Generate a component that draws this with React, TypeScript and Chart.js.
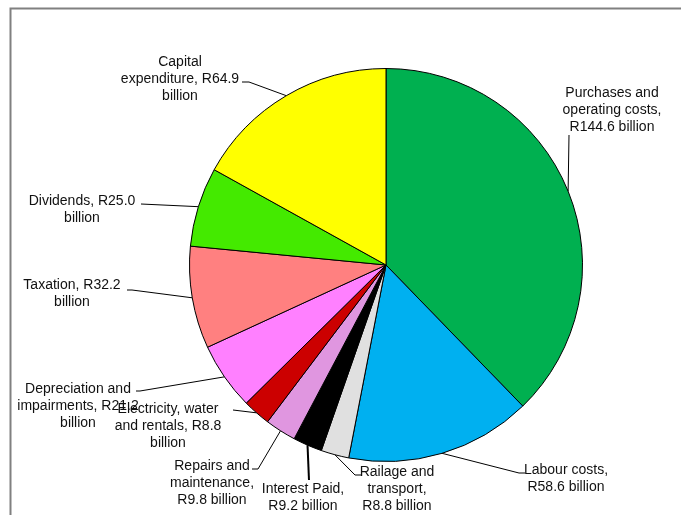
import React, { useEffect, useRef } from "react";
import { Chart, registerables } from "chart.js";

Chart.register(...registerables);

const categories = [
  "Purchases and operating costs",
  "Labour costs",
  "Railage and transport",
  "Interest Paid",
  "Repairs and maintenance",
  "Electricity, water and rentals",
  "Depreciation and impairments",
  "Taxation",
  "Dividends",
  "Capital expenditure",
];

const values = [144.6, 58.6, 8.8, 9.2, 9.8, 8.8, 21.2, 32.2, 25.0, 64.9];

const colors = [
  "#00B050",
  "#00B0F0",
  "#E0E0E0",
  "#000000",
  "#E096E0",
  "#CC0000",
  "#FF80FF",
  "#FF8080",
  "#44EA00",
  "#FFFF00",
];

const labelLines = [
  ["Purchases and", "operating costs,", "R144.6 billion"],
  ["Labour costs,", "R58.6 billion"],
  ["Railage and", "transport,", "R8.8 billion"],
  ["Interest Paid,", "R9.2 billion"],
  ["Repairs and", "maintenance,", "R9.8 billion"],
  ["Electricity, water", "and rentals, R8.8", "billion"],
  ["Depreciation and", "impairments, R21.2", "billion"],
  ["Taxation, R32.2", "billion"],
  ["Dividends, R25.0", "billion"],
  ["Capital", "expenditure, R64.9", "billion"],
];

// layout: label centre x, first line y, leader points near label
const labelLayout = [
  { cx: 612, y: 93, leader: [[569, 135]] },
  { cx: 566, y: 470, leader: [[525, 473], [519, 473]] },
  { cx: 397, y: 472, leader: [[361, 475], [355, 475]] },
  { cx: 303, y: 489, leader: [[309, 480]], width: 2 },
  { cx: 212, y: 466, leader: [[252, 469], [258, 469]] },
  { cx: 168, y: 409, leader: [[233, 410]] },
  { cx: 78, y: 389, leader: [[136, 391], [140, 391]] },
  { cx: 72, y: 285, leader: [[127, 290], [132, 290]] },
  { cx: 82, y: 201, leader: [[141, 204]] },
  { cx: 180, y: 62, leader: [[242, 82], [249, 82]] },
];

const LINE_H = 17;

const labelPlugin = {
  id: "labelPlugin",
  afterDraw(chart: any) {
    const ctx = chart.ctx;
    ctx.save();
    // frame
    ctx.strokeStyle = "#808080";
    ctx.lineWidth = 2;
    ctx.beginPath();
    ctx.moveTo(10.5, 515);
    ctx.lineTo(10.5, 8.5);
    ctx.lineTo(681, 8.5);
    ctx.stroke();

    const meta = chart.getDatasetMeta(0);
    meta.data.forEach((arc: any, i: number) => {
      const p = arc.getProps(["x", "y", "startAngle", "endAngle", "outerRadius"], true);
      const mid = (p.startAngle + p.endAngle) / 2;
      const ex = p.x + p.outerRadius * Math.cos(mid);
      const ey = p.y + p.outerRadius * Math.sin(mid);
      const lay = labelLayout[i];
      ctx.strokeStyle = "#000";
      ctx.lineWidth = lay.width || 1;
      ctx.beginPath();
      lay.leader.forEach((pt: number[], k: number) => {
        if (k === 0) ctx.moveTo(pt[0], pt[1]);
        else ctx.lineTo(pt[0], pt[1]);
      });
      ctx.lineTo(ex, ey);
      ctx.stroke();
    });

    ctx.fillStyle = "#111";
    ctx.font = "14px 'Liberation Sans', Arial, sans-serif";
    ctx.textAlign = "center";
    ctx.textBaseline = "middle";
    labelLines.forEach((lines, i) => {
      const lay = labelLayout[i];
      lines.forEach((t, k) => {
        ctx.fillText(t, lay.cx, lay.y + k * LINE_H);
      });
    });
    ctx.restore();
  },
};

export default function App() {
  const ref = useRef<HTMLCanvasElement | null>(null);
  useEffect(() => {
    if (!ref.current) return;
    const chart = new Chart(ref.current, {
      type: "pie",
      data: {
        labels: categories,
        datasets: [
          {
            data: values,
            backgroundColor: colors,
            borderColor: "#000",
            borderWidth: 1,
          },
        ],
      },
      options: {
        animation: false,
        responsive: false,
        layout: { padding: { left: 189, right: 98, top: 68, bottom: 53 } },
        plugins: {
          legend: { display: false },
          tooltip: { enabled: false },
        },
      },
      plugins: [labelPlugin],
    });
    return () => chart.destroy();
  }, []);
  return (
    <div style={{ position: "fixed", left: 0, top: 0, width: 681, height: 515, background: "#fff" }}>
      <canvas ref={ref} width={681} height={515} />
    </div>
  );
}
